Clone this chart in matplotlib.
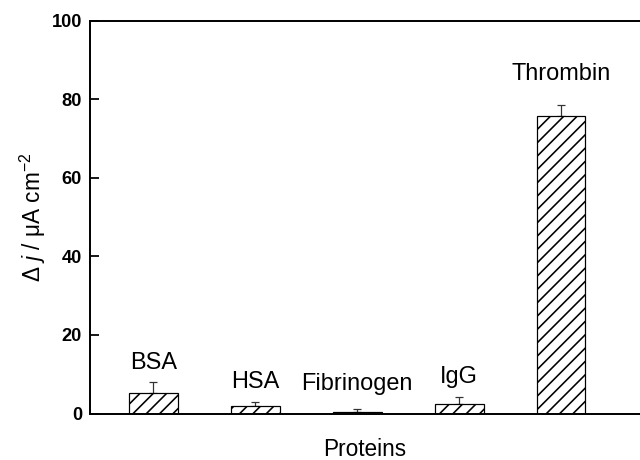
import numpy as np
import matplotlib.pyplot as plt

plt.rcParams['font.family'] = ['Liberation Sans', 'DejaVu Sans']
plt.rcParams['mathtext.fontset'] = 'custom'
plt.rcParams['mathtext.rm'] = 'Liberation Sans'
plt.rcParams['mathtext.it'] = 'Liberation Sans:italic'
plt.rcParams['hatch.linewidth'] = 1.45

proteins = ['BSA', 'HSA', 'Fibrinogen', 'IgG', 'Thrombin']
response = [5.1, 1.9, 0.5, 2.5, 75.8]
err_up = [2.8, 1.1, 0.7, 1.6, 2.8]
label_y = [11.3, 6.4, 6.1, 7.8, 85.0]

fig = plt.figure(figsize=(8, 5.75), dpi=80)
ax = fig.add_axes([90 / 640, 1 - 413.5 / 460, 550 / 640, (413.5 - 20.7) / 460])

x = np.arange(len(proteins))
ax.bar(x, response, width=0.48, color='white', edgecolor='black',
       linewidth=1.1, hatch='//', zorder=2)
ax.errorbar(x, response, yerr=[np.zeros(len(err_up)), err_up], fmt='none',
            ecolor='#333333', elinewidth=1.1, capsize=3.6, capthick=1.1, zorder=1)

for xi, name, ly in zip(x, proteins, label_y):
    ax.text(xi, ly, name, ha='center', va='baseline', fontsize=21.2)

ax.set_xlim(-0.623, 4.775)
ax.set_ylim(0, 100)
ax.set_xticks([])
ax.set_yticks([0, 20, 40, 60, 80, 100])
ax.tick_params(axis='y', direction='in', length=8, width=1.6, labelsize=16.4, pad=7.2)
for lab in ax.get_yticklabels():
    lab.set_fontweight('bold')
for s in ['left', 'bottom', 'top']:
    ax.spines[s].set_linewidth(1.76)
ax.spines['right'].set_visible(False)

ax.set_ylabel(r'$\Delta$ $j$ / $\mathrm{\mu}$A cm$^{\mathrm{-2}}$', fontsize=20.4, labelpad=3.2)
ax.set_xlabel('Proteins', fontsize=20.4, labelpad=22.4)

fig.savefig('out.png', dpi=80)
